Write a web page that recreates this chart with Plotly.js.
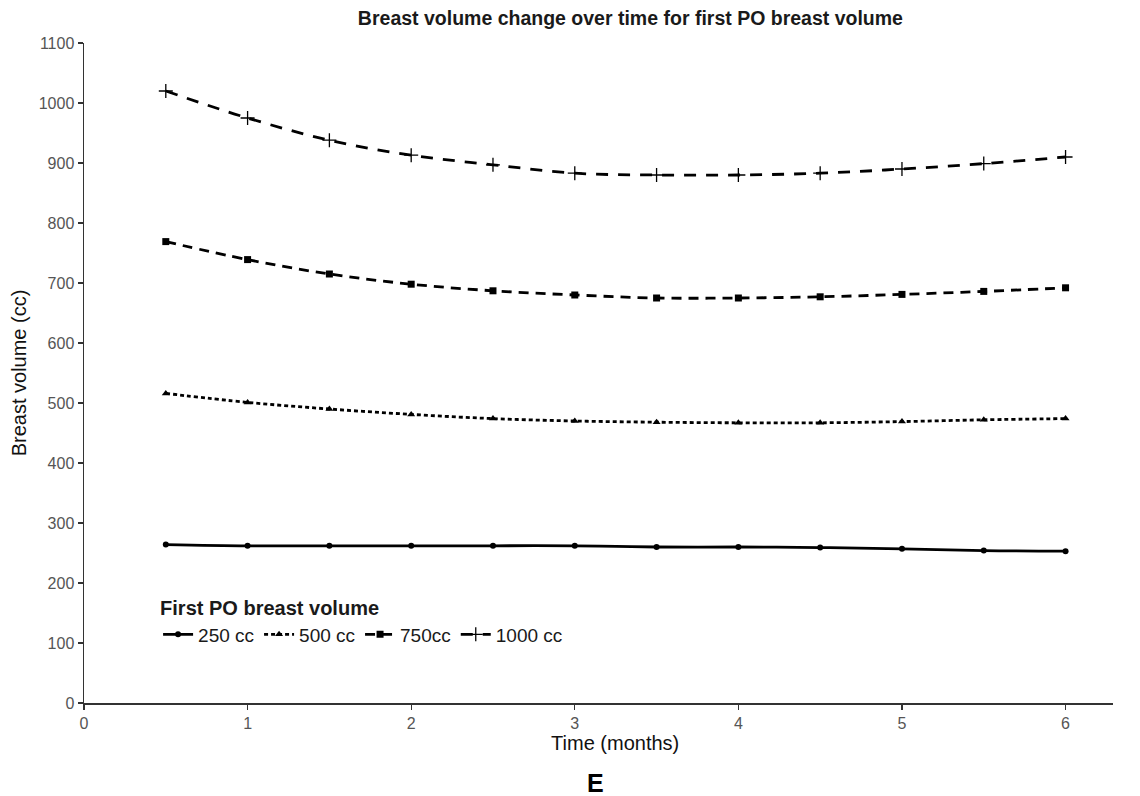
<!DOCTYPE html>
<html>
<head>
<meta charset="utf-8">
<script src="https://cdn.plot.ly/plotly-3.0.1.min.js"></script>
<style>html,body{margin:0;padding:0;background:#fff;}#chart{width:1140px;height:796px;}</style>
</head>
<body>
<div id="chart"></div>
<script>
const months = [0.5, 1, 1.5, 2, 2.5, 3, 3.5, 4, 4.5, 5, 5.5, 6];
const seriesNames = ["250 cc", "500 cc", "750cc", "1000 cc"];
const vol250 = [264, 262, 262, 262, 262, 262, 260, 260, 259, 257, 254, 253];
const vol500 = [516, 501, 490, 481, 474, 470, 468, 467, 467, 469, 472, 474];
const vol750 = [769, 739, 715, 698, 687, 680, 675, 675, 677, 681, 686, 692];
const vol1000 = [1020, 975, 938, 913, 897, 883, 880, 880, 883, 890, 899, 910];
const xTicks = [0, 1, 2, 3, 4, 5, 6];
const yTicks = [0, 100, 200, 300, 400, 500, 600, 700, 800, 900, 1000, 1100];

const seriesValues = [vol250, vol500, vol750, vol1000];
const symbols = ["circle", "triangle-up", "square", "cross-thin"];
const dashes = ["solid", "4px,3px", "10px,7px", "12px,10px"];
const sizes = [6, 7, 7, 10];

const traces = seriesValues.map((vals, i) => ({
  x: months,
  y: vals,
  name: seriesNames[i],
  type: "scatter",
  mode: "lines+markers",
  line: {color: "#000", width: 2.8, dash: dashes[i], shape: "spline", smoothing: 1},
  marker: {
    symbol: symbols[i], size: sizes[i], color: "#000",
    line: {color: "#000", width: i === 3 ? 1.3 : 0}
  }
}));

const font = "Liberation Sans, Arial, sans-serif";
const pad = "&nbsp;".repeat(6);
const layout = {
  width: 1140, height: 796,
  margin: {l: 84, r: 27, t: 43, b: 93},
  paper_bgcolor: "#fff", plot_bgcolor: "#fff",
  font: {family: font, color: "#000"},
  title: {
    text: "<b>Breast volume change over time for first PO breast volume</b>",
    font: {size: 19.5, family: font, color: "#1a1a1a"},
    xref: "container", x: 0.553, xanchor: "center", yref: "container", y: 0.977, yanchor: "middle"
  },
  xaxis: {
    range: [0, 6.29], tickvals: xTicks, ticktext: xTicks.map(String),
    showgrid: false, zeroline: false, showline: true, linecolor: "#333", linewidth: 1.5,
    ticks: "outside", ticklen: 5, tickcolor: "#333", tickwidth: 1.2,
    tickfont: {size: 16, color: "#555", family: font},
    title: {text: pad + "Time (months)", font: {size: 20, color: "#111", family: font}, standoff: 4}
  },
  yaxis: {
    range: [0, 1100], tickvals: yTicks, ticktext: yTicks.map(String),
    showgrid: false, zeroline: false, showline: true, linecolor: "#333", linewidth: 1.5,
    ticks: "outside", ticklen: 5, tickcolor: "#333", tickwidth: 1.2,
    tickfont: {size: 16, color: "#555", family: font},
    title: {text: "Breast volume (cc)", font: {size: 20, color: "#111", family: font}, standoff: 6}
  },
  legend: {
    orientation: "h", x: 0.072, xanchor: "left", y: 0.172, yanchor: "top",
    bgcolor: "rgba(0,0,0,0)",
    title: {text: "<b>First PO breast volume</b>", side: "top", font: {size: 20, color: "#1a1a1a", family: font}},
    font: {size: 19, color: "#1a1a1a", family: font},
    itemwidth: 30, tracegroupgap: 0
  },
  showlegend: true,
  annotations: [{
    text: "<b>E</b>", xref: "paper", yref: "paper", x: 0.497, y: -0.121,
    xanchor: "center", yanchor: "middle", showarrow: false,
    font: {size: 25, color: "#000", family: font}
  }]
};

Plotly.newPlot("chart", traces, layout, {displayModeBar: false, staticPlot: true});
</script>
</body>
</html>
